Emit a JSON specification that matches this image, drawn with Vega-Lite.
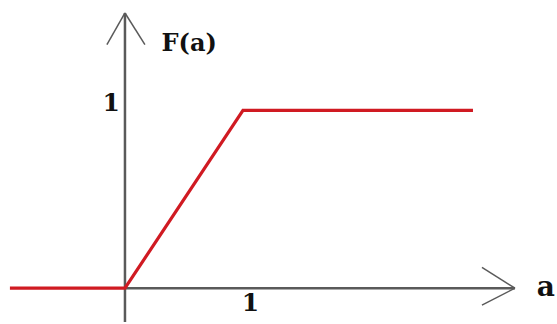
{
  "$schema": "https://vega.github.io/schema/vega-lite/v6.json",
  "width": 557,
  "height": 324,
  "autosize": {"type": "fit", "contains": "padding"},
  "padding": 0,
  "background": "white",
  "config": {"view": {"stroke": null}},
  "datasets": {
    "axes": [
      {"seg": "yaxis", "x": 0, "y": -0.19, "x2": 0, "y2": 1.547, "w": 2.5},
      {"seg": "xaxis", "x": 0, "y": 0, "x2": 3.305, "y2": 0, "w": 2.5},
      {"seg": "yarrowL", "x": -0.153, "y": 1.369, "x2": 0, "y2": 1.547, "w": 1.5},
      {"seg": "yarrowR", "x": 0.169, "y": 1.369, "x2": 0, "y2": 1.547, "w": 1.5},
      {"seg": "xarrowU", "x": 3.025, "y": 0.117, "x2": 3.305, "y2": 0, "w": 1.5},
      {"seg": "xarrowD", "x": 3.025, "y": -0.095, "x2": 3.305, "y2": 0, "w": 1.5}
    ],
    "cdf": [
      {"a": -0.975, "F": 0, "o": 0},
      {"a": 0, "F": 0, "o": 1},
      {"a": 1, "F": 1, "o": 2},
      {"a": 2.949, "F": 1, "o": 3}
    ],
    "labels": [
      {"text": "F(a)", "x": 0.31, "y": 1.335, "size": 24},
      {"text": "1", "x": -0.19, "y": 0.994, "size": 25},
      {"text": "1", "x": 0.99, "y": -0.128, "size": 25},
      {"text": "a", "x": 3.49, "y": -0.045, "size": 28}
    ]
  },
  "layer": [
    {
      "data": {"name": "axes"},
      "mark": {"type": "rule", "color": "#5a5a5a"},
      "encoding": {
        "x": {"field": "x", "type": "quantitative", "scale": {"domain": [-1.059, 3.661], "nice": false, "zero": false}, "axis": null},
        "y": {"field": "y", "type": "quantitative", "scale": {"domain": [-0.19, 1.62], "nice": false, "zero": false}, "axis": null},
        "x2": {"field": "x2"},
        "y2": {"field": "y2"},
        "strokeWidth": {"field": "w", "type": "quantitative", "scale": null}
      }
    },
    {
      "data": {"name": "cdf"},
      "mark": {"type": "line", "color": "#d01a22", "strokeWidth": 3.2},
      "encoding": {
        "x": {"field": "a", "type": "quantitative"},
        "y": {"field": "F", "type": "quantitative"},
        "order": {"field": "o"}
      }
    },
    {
      "data": {"name": "labels"},
      "mark": {"type": "text", "font": "DejaVu Serif", "fontWeight": "bold", "align": "left", "baseline": "alphabetic", "color": "#111111"},
      "encoding": {
        "x": {"field": "x", "type": "quantitative"},
        "y": {"field": "y", "type": "quantitative"},
        "text": {"field": "text"},
        "size": {"field": "size", "type": "quantitative", "scale": null}
      }
    }
  ]
}
